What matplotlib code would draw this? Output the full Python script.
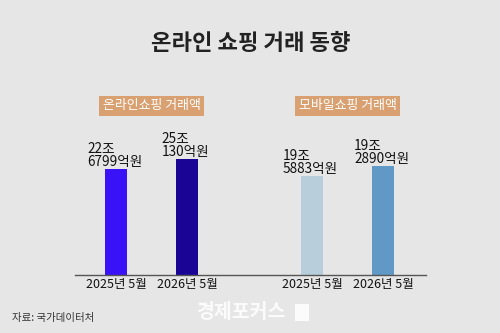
import matplotlib
matplotlib.use("Agg")
import matplotlib.pyplot as plt
from matplotlib.patches import Rectangle

plt.rcParams['font.family'] = ['Noto Sans CJK KR', 'DejaVu Sans']

# ---- data ----
title = "온라인 쇼핑 거래 동향"
group_labels = ["온라인쇼핑 거래액", "모바일쇼핑 거래액"]
periods = ["2025년 5월", "2026년 5월", "2025년 5월", "2026년 5월"]
value_labels = ["22조\n6799억원", "25조\n130억원", "19조\n5883억원", "19조\n2890억원"]
# bar heights as drawn in the picture (조원, visual scale)
bar_heights = [22.8, 24.9, 21.3, 23.4]
bar_colors = ["#3a12f7", "#1a0496", "#b9cedb", "#6199c6"]
source = "자료: 국가데이터처"
watermark = "경제포커스"

bg = "#e5e6e5"
W, H = 500, 333
fig = plt.figure(figsize=(W / 100, H / 100), dpi=100, facecolor=bg)

# axes: left 75px, right 426px, bottom 275px, top 80px
ax = fig.add_axes([75 / W, (H - 275) / H, (426 - 75) / W, (275 - 80) / H])
ax.set_facecolor(bg)

positions = [0, 1, 2.76, 3.76]
ax.bar(positions, bar_heights, width=0.32, color=bar_colors, zorder=2)
ax.set_xlim(-0.577, 4.366)
ax.set_ylim(0, 195 / 4.65)

for s in ["top", "right", "left"]:
    ax.spines[s].set_visible(False)
ax.spines["bottom"].set_color("#555555")
ax.spines["bottom"].set_linewidth(1.0)
ax.set_yticks([])
ax.set_xticks(positions)
ax.set_xticklabels(periods, fontsize=9, color="#111111")
ax.tick_params(axis="x", length=0, pad=2)

for x, h, lab in zip(positions, bar_heights, value_labels):
    ax.annotate(lab, (x, h), xytext=(-1, 0), textcoords="offset points",
                ha="center", va="bottom", multialignment="left",
                fontsize=9.8, color="#111111", linespacing=0.9)

# group label boxes
group_centers = [(positions[0] + positions[1]) / 2, (positions[2] + positions[3]) / 2]
for gx, g in zip(group_centers, group_labels):
    ax.text(gx, 1 - (106 - 80) / (275 - 80), g, transform=ax.get_xaxis_transform(),
            ha="center", va="center", fontsize=9.3, color="white",
            bbox=dict(boxstyle="square,pad=0.3", fc="#d9a171", ec="none"))

fig.text(251 / W, 1 - 43 / H, title, ha="center", va="center",
         fontsize=16, fontweight="bold", color="#222222")
fig.text(12 / W, 1 - 318 / H, source, ha="left", va="center",
         fontsize=7.5, color="#333333")
fig.text(241 / W, 1 - 312 / H, watermark, ha="center", va="center",
         fontsize=14, fontweight="bold", color="white", alpha=0.85)
fig.patches.append(Rectangle((295 / W, 1 - 321 / H), 14 / W, 17 / H,
                             transform=fig.transFigure, fc="white", ec="none", alpha=0.85))

fig.savefig("out.png", dpi=100, facecolor=bg)
